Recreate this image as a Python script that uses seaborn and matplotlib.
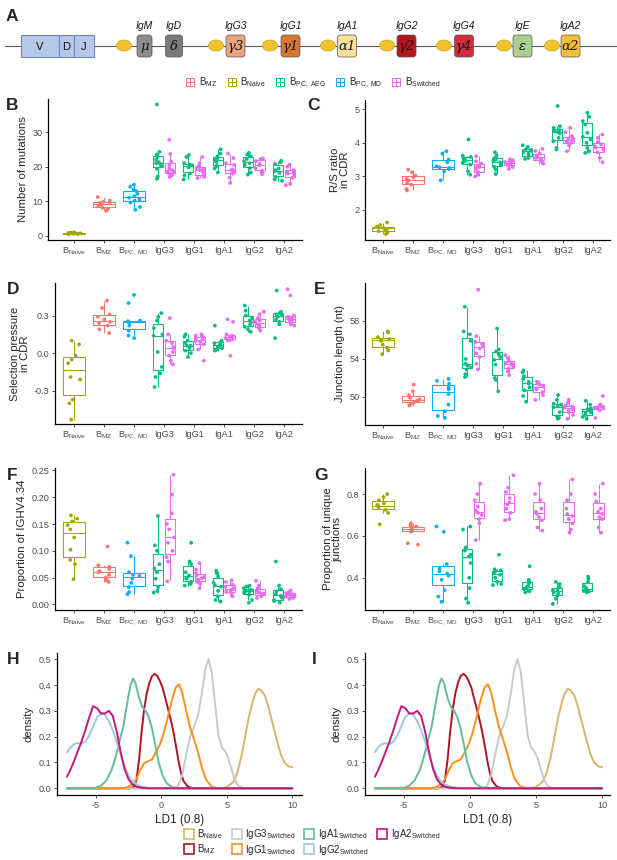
import matplotlib
matplotlib.use('Agg')
import matplotlib.pyplot as plt
from matplotlib.lines import Line2D
from matplotlib.patches import Rectangle, Ellipse, FancyBboxPatch
from matplotlib.legend_handler import HandlerTuple
from matplotlib.ticker import FormatStrFormatter
import numpy as np
import pandas as pd
import seaborn as sns

# ---- categories / groups ----
cells = ['B_Naive', 'B_MZ', 'B_PC_MD', 'IgG3', 'IgG1', 'IgA1', 'IgG2', 'IgA2']
cell_labels = [r'$\mathrm{B_{Naive}}$', r'$\mathrm{B_{MZ}}$', r'$\mathrm{B_{PC,\ MD}}$',
               'IgG3', 'IgG1', 'IgA1', 'IgG2', 'IgA2']
single_pops = ['Naive', 'MZ', 'PC_MD']
paired_pops = ['PC_AEG', 'Switched']
pop_colors = {'MZ': '#F8766D', 'Naive': '#A3A500', 'PC_AEG': '#00BF7D',
              'PC_MD': '#00B0F6', 'Switched': '#E76BF3'}
legend_pops = ['MZ', 'Naive', 'PC_AEG', 'PC_MD', 'Switched']
legend_labels = [r'$\mathrm{B_{MZ}}$', r'$\mathrm{B_{Naive}}$', r'$\mathrm{B_{PC,\ AEG}}$',
                 r'$\mathrm{B_{PC,\ MD}}$', r'$\mathrm{B_{Switched}}$']

# ---- panel B: number of mutations ----
mutations = {
    ('B_Naive', 'Naive'): [0.4, 0.5, 0.6, 0.6, 0.7, 0.7, 0.8, 0.8, 0.9, 1.0],
    ('B_MZ', 'MZ'): [7.2, 7.8, 8.1, 8.6, 9.0, 9.4, 9.6, 9.8, 10.2, 11.2],
    ('B_PC_MD', 'PC_MD'): [7.5, 8.3, 9.6, 10.1, 10.5, 11.0, 11.4, 12.1, 12.9, 13.4, 14.2, 14.8],
    ('IgG3', 'PC_AEG'): [16.5, 17.2, 19.4, 20.2, 20.8, 21.0, 21.3, 22.0, 22.8, 23.5, 24.3, 38.0],
    ('IgG3', 'Switched'): [17.0, 17.5, 18.0, 18.3, 18.6, 19.0, 19.5, 20.5, 21.5, 23.7, 27.8],
    ('IgG1', 'PC_AEG'): [16.3, 17.5, 18.0, 19.8, 20.2, 20.4, 20.6, 21.0, 22.8, 23.4],
    ('IgG1', 'Switched'): [16.7, 17.0, 17.5, 18.3, 19.0, 19.3, 19.6, 20.1, 21.0, 22.8],
    ('IgA1', 'PC_AEG'): [18.3, 19.5, 20.2, 21.3, 21.8, 22.0, 22.4, 23.0, 23.8, 25.0],
    ('IgA1', 'Switched'): [15.3, 16.8, 18.0, 18.6, 19.0, 19.2, 20.5, 21.0, 22.5, 23.8],
    ('IgG2', 'PC_AEG'): [17.7, 18.3, 19.6, 20.5, 21.0, 21.5, 22.2, 23.0, 23.5, 24.0],
    ('IgG2', 'Switched'): [17.8, 18.2, 18.8, 19.5, 20.4, 20.8, 21.6, 22.1, 22.2, 22.4],
    ('IgA2', 'PC_AEG'): [15.9, 16.3, 17.0, 18.2, 18.7, 19.0, 19.5, 20.8, 21.3, 21.7],
    ('IgA2', 'Switched'): [14.6, 15.0, 16.8, 17.5, 18.0, 18.3, 18.6, 19.0, 20.0, 20.6],
}

# ---- panel C: R/S ratio in CDR ----
rs_ratio = {
    ('B_Naive', 'Naive'): [1.28, 1.32, 1.36, 1.40, 1.43, 1.46, 1.48, 1.50, 1.55, 1.62],
    ('B_MZ', 'MZ'): [2.58, 2.62, 2.75, 2.80, 2.88, 2.92, 2.97, 3.02, 3.12, 3.20],
    ('B_PC_MD', 'PC_MD'): [2.88, 3.15, 3.22, 3.25, 3.27, 3.30, 3.42, 3.50, 3.68, 3.75],
    ('IgG3', 'PC_AEG'): [3.05, 3.15, 3.35, 3.40, 3.46, 3.50, 3.55, 3.58, 3.62, 4.10],
    ('IgG3', 'Switched'): [3.00, 3.05, 3.12, 3.20, 3.28, 3.30, 3.32, 3.38, 3.45, 3.60],
    ('IgG1', 'PC_AEG'): [3.07, 3.20, 3.28, 3.35, 3.42, 3.46, 3.50, 3.55, 3.62, 3.72],
    ('IgG1', 'Switched'): [3.22, 3.28, 3.33, 3.36, 3.38, 3.41, 3.43, 3.46, 3.48, 3.51],
    ('IgA1', 'PC_AEG'): [3.52, 3.55, 3.60, 3.68, 3.73, 3.76, 3.79, 3.82, 3.88, 3.93],
    ('IgA1', 'Switched'): [3.38, 3.44, 3.48, 3.52, 3.55, 3.58, 3.62, 3.68, 3.76, 3.82],
    ('IgG2', 'PC_AEG'): [3.80, 3.85, 4.05, 4.15, 4.28, 4.32, 4.35, 4.38, 4.45, 4.50, 5.10],
    ('IgG2', 'Switched'): [3.75, 3.92, 3.98, 4.02, 4.06, 4.10, 4.14, 4.20, 4.32, 4.45],
    ('IgA2', 'PC_AEG'): [3.70, 3.75, 3.85, 4.00, 4.10, 4.18, 4.30, 4.55, 4.65, 4.78, 4.90],
    ('IgA2', 'Switched'): [3.42, 3.55, 3.72, 3.80, 3.86, 3.90, 3.96, 4.02, 4.15, 4.25],
}

# ---- panel D: selection pressure in CDR ----
selection = {
    ('B_Naive', 'Naive'): [0.10, 0.07, -0.02, -0.05, -0.08, -0.19, -0.21, -0.37, -0.40, -0.53],
    ('B_MZ', 'MZ'): [0.16, 0.19, 0.22, 0.24, 0.25, 0.27, 0.29, 0.31, 0.36, 0.42],
    ('B_PC_MD', 'PC_MD'): [0.12, 0.14, 0.18, 0.22, 0.245, 0.25, 0.255, 0.26, 0.40, 0.465],
    ('IgG3', 'PC_AEG'): [-0.27, -0.19, -0.16, -0.11, 0.01, 0.14, 0.15, 0.20, 0.26, 0.29, 0.32],
    ('IgG3', 'Switched'): [-0.09, -0.06, -0.02, 0.01, 0.04, 0.05, 0.08, 0.10, 0.15, 0.28],
    ('IgG1', 'PC_AEG'): [-0.03, 0.0, 0.02, 0.04, 0.06, 0.06, 0.08, 0.10, 0.13, 0.15],
    ('IgG1', 'Switched'): [-0.06, 0.03, 0.07, 0.09, 0.10, 0.11, 0.12, 0.13, 0.14, 0.15],
    ('IgA1', 'PC_AEG'): [0.02, 0.03, 0.04, 0.05, 0.06, 0.07, 0.08, 0.09, 0.10, 0.22],
    ('IgA1', 'Switched'): [-0.02, 0.10, 0.11, 0.12, 0.13, 0.13, 0.14, 0.15, 0.25, 0.27],
    ('IgG2', 'PC_AEG'): [0.17, 0.19, 0.21, 0.23, 0.25, 0.26, 0.28, 0.30, 0.34, 0.38],
    ('IgG2', 'Switched'): [0.18, 0.20, 0.21, 0.22, 0.23, 0.25, 0.26, 0.28, 0.31, 0.33],
    ('IgA2', 'PC_AEG'): [0.12, 0.23, 0.25, 0.27, 0.29, 0.30, 0.31, 0.32, 0.33, 0.50],
    ('IgA2', 'Switched'): [0.22, 0.23, 0.25, 0.26, 0.27, 0.28, 0.29, 0.30, 0.46, 0.51],
}

# ---- panel E: junction length ----
junction = {
    ('B_Naive', 'Naive'): [54.5, 54.9, 55.2, 55.5, 55.9, 56.0, 56.1, 56.3, 56.8, 56.9],
    ('B_MZ', 'MZ'): [49.1, 49.3, 49.45, 49.6, 49.7, 49.75, 49.9, 50.2, 50.6, 51.3],
    ('B_PC_MD', 'PC_MD'): [47.8, 48.0, 48.5, 49.2, 50.3, 50.8, 51.0, 51.4, 51.7, 51.9],
    ('IgG3', 'PC_AEG'): [52.1, 52.4, 52.9, 53.1, 53.3, 53.5, 54.0, 55.9, 56.6, 56.9, 59.5],
    ('IgG3', 'Switched'): [52.9, 53.5, 54.2, 54.6, 55.1, 55.4, 55.6, 55.8, 56.4, 61.3],
    ('IgG1', 'PC_AEG'): [50.6, 51.8, 52.0, 53.4, 53.9, 54.2, 54.5, 54.8, 55.0, 57.2],
    ('IgG1', 'Switched'): [52.3, 52.7, 53.0, 53.2, 53.4, 53.5, 53.6, 53.8, 54.1, 54.4],
    ('IgA1', 'PC_AEG'): [49.5, 50.1, 50.7, 51.0, 51.4, 51.6, 51.9, 52.2, 52.6, 52.8],
    ('IgA1', 'Switched'): [49.7, 50.2, 50.5, 50.8, 50.9, 51.1, 51.3, 51.4, 51.5, 51.6],
    ('IgG2', 'PC_AEG'): [47.7, 47.8, 47.95, 48.4, 48.9, 49.0, 49.2, 49.3, 49.7, 50.2],
    ('IgG2', 'Switched'): [47.7, 48.1, 48.4, 48.6, 48.7, 48.9, 49.0, 49.1, 49.4, 49.7],
    ('IgA2', 'PC_AEG'): [47.7, 47.9, 48.1, 48.3, 48.4, 48.6, 48.7, 48.8, 49.2, 49.6],
    ('IgA2', 'Switched'): [47.8, 48.6, 48.75, 48.85, 48.9, 48.95, 49.0, 49.1, 49.2, 50.1],
}

# ---- panel F: proportion of IGHV4.34 ----
ighv434 = {
    ('B_Naive', 'Naive'): [0.047, 0.075, 0.083, 0.102, 0.125, 0.14, 0.148, 0.155, 0.16, 0.166],
    ('B_MZ', 'MZ'): [0.042, 0.045, 0.05, 0.055, 0.06, 0.062, 0.066, 0.07, 0.073, 0.108],
    ('B_PC_MD', 'PC_MD'): [0.019, 0.023, 0.032, 0.04, 0.048, 0.053, 0.055, 0.06, 0.09, 0.115],
    ('IgG3', 'PC_AEG'): [0.022, 0.025, 0.032, 0.048, 0.06, 0.067, 0.075, 0.10, 0.11, 0.165],
    ('IgG3', 'Switched'): [0.043, 0.08, 0.088, 0.10, 0.115, 0.125, 0.14, 0.15, 0.17, 0.205, 0.242],
    ('IgG1', 'PC_AEG'): [0.035, 0.038, 0.042, 0.048, 0.05, 0.054, 0.06, 0.075, 0.08, 0.115],
    ('IgG1', 'Switched'): [0.03, 0.038, 0.042, 0.046, 0.049, 0.051, 0.054, 0.058, 0.065, 0.077],
    ('IgA1', 'PC_AEG'): [0.005, 0.008, 0.015, 0.025, 0.033, 0.036, 0.04, 0.052, 0.058, 0.063],
    ('IgA1', 'Switched'): [0.015, 0.02, 0.023, 0.026, 0.028, 0.03, 0.033, 0.037, 0.042, 0.045],
    ('IgG2', 'PC_AEG'): [0.003, 0.008, 0.018, 0.022, 0.024, 0.025, 0.027, 0.03, 0.033, 0.035],
    ('IgG2', 'Switched'): [0.012, 0.015, 0.017, 0.019, 0.02, 0.022, 0.025, 0.03, 0.035, 0.044],
    ('IgA2', 'PC_AEG'): [0.003, 0.006, 0.008, 0.012, 0.016, 0.019, 0.024, 0.028, 0.035, 0.08],
    ('IgA2', 'Switched'): [0.01, 0.012, 0.014, 0.015, 0.017, 0.018, 0.019, 0.021, 0.023, 0.026],
}

# ---- panel G: proportion of unique junctions ----
unique_junctions = {
    ('B_Naive', 'Naive'): [0.655, 0.71, 0.725, 0.735, 0.742, 0.748, 0.755, 0.77, 0.785, 0.80],
    ('B_MZ', 'MZ'): [0.558, 0.565, 0.62, 0.625, 0.63, 0.635, 0.64, 0.645, 0.65, 0.66],
    ('B_PC_MD', 'PC_MD'): [0.285, 0.31, 0.34, 0.39, 0.41, 0.42, 0.43, 0.445, 0.465, 0.62, 0.645],
    ('IgG3', 'PC_AEG'): [0.28, 0.30, 0.35, 0.40, 0.47, 0.50, 0.51, 0.53, 0.545, 0.63, 0.645],
    ('IgG3', 'Switched'): [0.58, 0.66, 0.68, 0.70, 0.71, 0.72, 0.74, 0.77, 0.80, 0.85],
    ('IgG1', 'PC_AEG'): [0.365, 0.37, 0.38, 0.40, 0.415, 0.42, 0.43, 0.435, 0.44, 0.51],
    ('IgG1', 'Switched'): [0.675, 0.68, 0.71, 0.73, 0.75, 0.76, 0.78, 0.81, 0.83, 0.89],
    ('IgA1', 'PC_AEG'): [0.33, 0.335, 0.345, 0.35, 0.355, 0.36, 0.37, 0.38, 0.39, 0.455],
    ('IgA1', 'Switched'): [0.625, 0.64, 0.675, 0.69, 0.705, 0.715, 0.73, 0.77, 0.80, 0.85],
    ('IgG2', 'PC_AEG'): [0.275, 0.30, 0.315, 0.325, 0.33, 0.34, 0.345, 0.355, 0.37, 0.38],
    ('IgG2', 'Switched'): [0.615, 0.63, 0.66, 0.68, 0.695, 0.705, 0.73, 0.77, 0.80, 0.87],
    ('IgA2', 'PC_AEG'): [0.33, 0.333, 0.337, 0.34, 0.345, 0.35, 0.36, 0.38, 0.395, 0.405],
    ('IgA2', 'Switched'): [0.615, 0.64, 0.68, 0.69, 0.705, 0.715, 0.73, 0.765, 0.80, 0.85],
}

# ---- panels H / I: LD1 densities ----
dens_groups = ['Naive', 'MZ', 'IgG3', 'IgG1', 'IgA1', 'IgG2', 'IgA2']
dens_labels = [r'$\mathrm{B_{Naive}}$', r'$\mathrm{B_{MZ}}$', r'$\mathrm{IgG3_{Switched}}$',
               r'$\mathrm{IgG1_{Switched}}$', r'$\mathrm{IgA1_{Switched}}$',
               r'$\mathrm{IgG2_{Switched}}$', r'$\mathrm{IgA2_{Switched}}$']
dens_colors = {'Naive': '#D8B56C', 'MZ': '#AE1328', 'IgG3': '#C9C9C9', 'IgG1': '#F7921E',
               'IgA1': '#62BE98', 'IgG2': '#9CC8E0', 'IgA2': '#C2187A'}
ld1_x = {
    'Naive': [-7.2, 4.5, 5.0, 5.5, 5.8, 6.1, 6.4, 6.7, 7.0, 7.2, 7.4, 7.6, 7.9, 8.2, 8.5, 8.8,
              9.1, 9.4, 9.7, 10.0],
    'MZ': [-7.2, -2.4, -2.1, -1.9, -1.7, -1.5, -1.3, -1.1, -0.9, -0.7, -0.5, -0.3, -0.1, 0.1,
           0.3, 0.5, 0.7, 0.9, 1.1, 1.3, 1.5, 1.7, 2.0, 2.4, 10.0],
    'IgG3': [-7.2, 1.0, 1.3, 1.6, 1.9, 2.2, 2.5, 2.8, 3.1, 3.35, 3.6, 3.85, 4.1, 4.35, 4.6,
             4.85, 5.1, 5.35, 5.6, 5.9, 6.3, 10.0],
    'IgG1': [-7.2, -3.0, -2.6, -2.2, -1.9, -1.6, -1.3, -1.0, -0.7, -0.4, -0.1, 0.2, 0.5, 0.8,
             1.1, 1.35, 1.6, 1.9, 2.2, 2.5, 2.8, 3.1, 3.4, 3.8, 4.3, 10.0],
    'IgA1': [-7.2, -5.0, -4.6, -4.2, -3.8, -3.5, -3.2, -2.9, -2.6, -2.35, -2.15, -1.95, -1.7,
             -1.45, -1.2, -0.95, -0.7, -0.45, -0.2, 0.1, 0.4, 0.8, 1.3, 10.0],
    'IgG2': [-7.2, -7.0, -6.7, -6.4, -6.1, -5.8, -5.5, -5.2, -4.9, -4.6, -4.3, -4.0, -3.7,
             -3.4, -3.1, -2.8, -2.5, -2.2, -1.9, -1.5, -1.0, -0.5, 10.0],
    'IgA2': [-7.2, -7.0, -6.7, -6.4, -6.1, -5.8, -5.5, -5.2, -4.9, -4.6, -4.3, -4.0, -3.7,
             -3.4, -3.1, -2.8, -2.5, -2.2, -1.9, -1.5, -1.0, 10.0],
}
ld1_density = {
    'Naive': [0, 0.0, 0.005, 0.025, 0.06, 0.12, 0.20, 0.28, 0.34, 0.37, 0.385, 0.38, 0.36,
              0.31, 0.25, 0.19, 0.135, 0.10, 0.085, 0.082],
    'MZ': [0, 0.0, 0.005, 0.03, 0.11, 0.22, 0.31, 0.37, 0.41, 0.435, 0.443, 0.435, 0.415,
           0.39, 0.35, 0.31, 0.27, 0.225, 0.17, 0.11, 0.06, 0.028, 0.008, 0.0, 0.0],
    'IgG3': [0, 0.0, 0.01, 0.05, 0.13, 0.20, 0.24, 0.28, 0.37, 0.46, 0.50, 0.45, 0.33, 0.21,
             0.16, 0.145, 0.12, 0.075, 0.035, 0.008, 0.0, 0.0],
    'IgG1': [0, 0.0, 0.004, 0.015, 0.035, 0.07, 0.098, 0.105, 0.112, 0.14, 0.17, 0.215, 0.275,
             0.34, 0.39, 0.403, 0.37, 0.30, 0.235, 0.19, 0.14, 0.08, 0.035, 0.008, 0.0, 0.0],
    'IgA1': [0, 0.002, 0.01, 0.03, 0.07, 0.12, 0.18, 0.24, 0.33, 0.40, 0.425, 0.405, 0.35,
             0.315, 0.30, 0.275, 0.23, 0.165, 0.10, 0.05, 0.02, 0.005, 0.0, 0.0],
    'IgG2': [0.14, 0.155, 0.17, 0.175, 0.172, 0.18, 0.205, 0.24, 0.275, 0.29, 0.285, 0.26,
             0.225, 0.18, 0.13, 0.085, 0.05, 0.028, 0.015, 0.006, 0.002, 0.0, 0.0],
    'IgA2': [0.045, 0.065, 0.10, 0.14, 0.18, 0.225, 0.275, 0.318, 0.31, 0.29, 0.29, 0.30,
             0.28, 0.22, 0.14, 0.075, 0.035, 0.015, 0.006, 0.002, 0.0, 0.0],
}

# ---- panel A: heavy chain locus ----
genes = ['IgM', 'IgD', 'IgG3', 'IgG1', 'IgA1', 'IgG2', 'IgG4', 'IgE', 'IgA2']
gene_symbols = ['μ', 'δ', 'γ3', 'γ1', 'α1', 'γ2', 'γ4', 'ε', 'α2']
gene_colors = ['#8C8C8C', '#7A7A7A', '#E9A47C', '#D8782F', '#FBE09A', '#B8141E',
               '#D52B3C', '#AACF8E', '#F4BF35']

sns.set_theme(style='ticks')
plt.rcParams['font.family'] = ['Liberation Sans', 'DejaVu Sans']
plt.rcParams['mathtext.fontset'] = 'custom'
plt.rcParams['mathtext.rm'] = 'Liberation Sans'
plt.rcParams['mathtext.it'] = 'Liberation Sans:italic'
plt.rcParams['axes.unicode_minus'] = False
np.random.seed(7)

W, H = 617, 860
fig = plt.figure(figsize=(W / 100, H / 100), dpi=100)


def px_axes(left, top, right, bottom):
    return fig.add_axes([left / W, 1 - bottom / H, (right - left) / W, (bottom - top) / H])


def style_axes(ax):
    sns.despine(ax=ax)
    for s in ['left', 'bottom']:
        ax.spines[s].set_linewidth(0.9)
        ax.spines[s].set_color('black')
    ax.tick_params(length=2.5, width=0.6, color='#333333', labelcolor='#4D4D4D',
                   labelsize=6.6, pad=1.5)


def long_table(values):
    rows = [(cell, pop, v) for (cell, pop), vals in values.items() for v in vals]
    return pd.DataFrame(rows, columns=['cell', 'population', 'value'])


def box_panel(ax, values, ylabel, yticks, ylim, xlim, fmt):
    df = long_table(values)
    single = df[df.population.isin(single_pops)]
    paired = df[df.population.isin(paired_pops)]
    common = dict(x='cell', y='value', hue='population', order=cells,
                  palette=pop_colors, ax=ax, legend=False)
    sns.boxplot(data=single, hue_order=single_pops, dodge=False, width=0.72, fill=False,
                saturation=1, linewidth=0.75, showfliers=False, capprops={'visible': False},
                **common)
    sns.boxplot(data=paired, hue_order=paired_pops, dodge=True, width=0.75, gap=0.1,
                fill=False, saturation=1, linewidth=0.75, showfliers=False,
                capprops={'visible': False}, **common)
    sns.stripplot(data=single, hue_order=single_pops, dodge=False, jitter=0.22, size=2.7,
                  linewidth=0, **common)
    sns.stripplot(data=paired, hue_order=paired_pops, dodge=True, jitter=0.3, size=2.7,
                  linewidth=0, **common)
    ax.set_xticks(range(len(cells)), cell_labels)
    ax.set_yticks(yticks)
    ax.yaxis.set_major_formatter(FormatStrFormatter(fmt))
    ax.set_xlim(*xlim)
    ax.set_ylim(*ylim)
    ax.set_xlabel('')
    ax.set_ylabel(ylabel, fontsize=8.2, labelpad=3, linespacing=1.0)
    style_axes(ax)


def density_panel(ax):
    rows = [(g, x, y) for g in dens_groups for x, y in zip(ld1_x[g], ld1_density[g])]
    dens = pd.DataFrame(rows, columns=['population', 'ld1', 'density'])
    sns.lineplot(data=dens, x='ld1', y='density', hue='population', hue_order=dens_groups,
                 palette=dens_colors, estimator=None, lw=1.4, legend=False, ax=ax)
    ax.set_xticks([-5, 0, 5, 10])
    ax.set_yticks([0, 0.1, 0.2, 0.3, 0.4, 0.5])
    ax.yaxis.set_major_formatter(FormatStrFormatter('%.1f'))
    ax.set_ylim(-0.026, 0.524)
    ax.set_xlabel('LD1 (0.8)', fontsize=8.5, labelpad=3)
    ax.set_ylabel('density', fontsize=8.2, labelpad=4)
    style_axes(ax)


# ---- panel A ----
ax_a = px_axes(0, 0, W, 70)
ax_a.set_xlim(0, W)
ax_a.set_ylim(70, 0)
ax_a.axis('off')
ax_a.plot([5, 617], [45.5, 45.5], color='#555555', lw=0.8, zorder=1)
for x0, x1, lab in [(21, 59, 'V'), (59, 74, 'D'), (74, 94, 'J')]:
    ax_a.add_patch(Rectangle((x0, 35), x1 - x0, 22, fc='#B6C8E8', ec='#6F88C0', lw=0.8, zorder=2))
    ax_a.text((x0 + x1) / 2, 46.5, lab, ha='center', va='center', fontsize=8, color='#111111')
for cx in [124, 216, 270, 328, 387, 444, 504, 552]:
    ax_a.add_patch(Ellipse((cx, 45.5), 15, 11, fc='#F2C12E', ec='#C9A227', lw=0.5, zorder=2))
box_centers = [144.5, 174, 235.5, 290.5, 347, 406.5, 464, 522.5, 570.5]
box_widths = [15, 17, 19, 19, 19, 19, 19, 19, 19]
for gene, sym, col, cx, bw in zip(genes, gene_symbols, gene_colors, box_centers, box_widths):
    ax_a.add_patch(FancyBboxPatch((cx - bw / 2, 35), bw, 22,
                                  boxstyle='round,pad=0,rounding_size=3',
                                  fc=col, ec='#555555', lw=0.5, zorder=2))
    ax_a.text(cx, 46.5, sym, ha='center', va='center', fontsize=9.5, style='italic',
              family='DejaVu Serif', color='#1A1A1A', zorder=3)
    ax_a.text(cx, 26, gene, ha='center', va='center', fontsize=7.5, style='italic',
              color='#1A1A1A')

# ---- box panels ----
ax_b = px_axes(48, 99, 302, 240)
box_panel(ax_b, mutations, 'Number of mutations', [0, 10, 20, 30], (-1.25, 39.6),
          (-0.87, 7.6), '%d')
ax_c = px_axes(365, 100, 610, 240)
box_panel(ax_c, rs_ratio, 'R/S ratio\nin CDR', [2, 3, 4, 5], (1.1, 5.28), (-0.6, 7.57), '%d')
ax_d = px_axes(55, 283, 302, 424)
box_panel(ax_d, selection, 'Selection pressure\nin CDR', [-0.3, 0.0, 0.3], (-0.565, 0.56),
          (-0.63, 7.6), '%.1f')
ax_e = px_axes(365, 283, 610, 425)
box_panel(ax_e, junction, 'Junction length (nt)', [50, 54, 58], (47.05, 62.0),
          (-0.6, 7.57), '%d')
ax_f = px_axes(55, 468, 302, 610)
box_panel(ax_f, ighv434, 'Proportion of IGHV4.34', [0, 0.05, 0.10, 0.15, 0.20, 0.25],
          (-0.0106, 0.2546), (-0.63, 7.6), '%.2f')
ax_g = px_axes(365, 468, 610, 610)
box_panel(ax_g, unique_junctions, 'Proportion of unique\njunctions', [0.4, 0.6, 0.8],
          (0.2456, 0.9245), (-0.6, 7.57), '%.1f')

# ---- density panels ----
ax_h = px_axes(57, 653, 302, 795)
density_panel(ax_h)
ax_h.set_xlim(-7.96, 10.74)
ax_i = px_axes(365, 653, 610, 795)
density_panel(ax_i)
ax_i.set_xlim(-7.95, 10.6)

# ---- panel letters ----
for letter, x, y in [('A', 6, 9), ('B', 6, 98), ('C', 307, 98), ('D', 7, 282), ('E', 314, 282),
                     ('F', 7, 468), ('G', 314, 468), ('H', 7, 652), ('I', 312, 652)]:
    fig.text(x / W, 1 - y / H, letter, fontsize=12.5, fontweight='bold', ha='left', va='top')

# ---- top legend ----
handles = [(Line2D([], [], marker='s', ms=6, mfc='none', mec=pop_colors[p], mew=0.7, ls=''),
            Line2D([], [], marker='+', ms=6, mec=pop_colors[p], mew=0.7, ls=''))
           for p in legend_pops]
fig.legend(handles, legend_labels, loc='center', bbox_to_anchor=(313 / W, 1 - 83 / H),
           ncol=5, frameon=False, fontsize=7, handlelength=1.0, handletextpad=0.4,
           columnspacing=0.95, handler_map={tuple: HandlerTuple(ndivide=1)})

# ---- bottom legend ----
dens_handles = [Line2D([], [], marker='s', ms=7, mfc='none', mec=dens_colors[g], mew=1.2, ls='')
                for g in dens_groups]
fig.legend(dens_handles, dens_labels, loc='center', bbox_to_anchor=(312 / W, 1 - 842 / H),
           ncol=4, frameon=False, fontsize=7, handlelength=1.0, handletextpad=0.4,
           columnspacing=0.9, labelspacing=0.15)

fig.savefig('out.png', dpi=100)
